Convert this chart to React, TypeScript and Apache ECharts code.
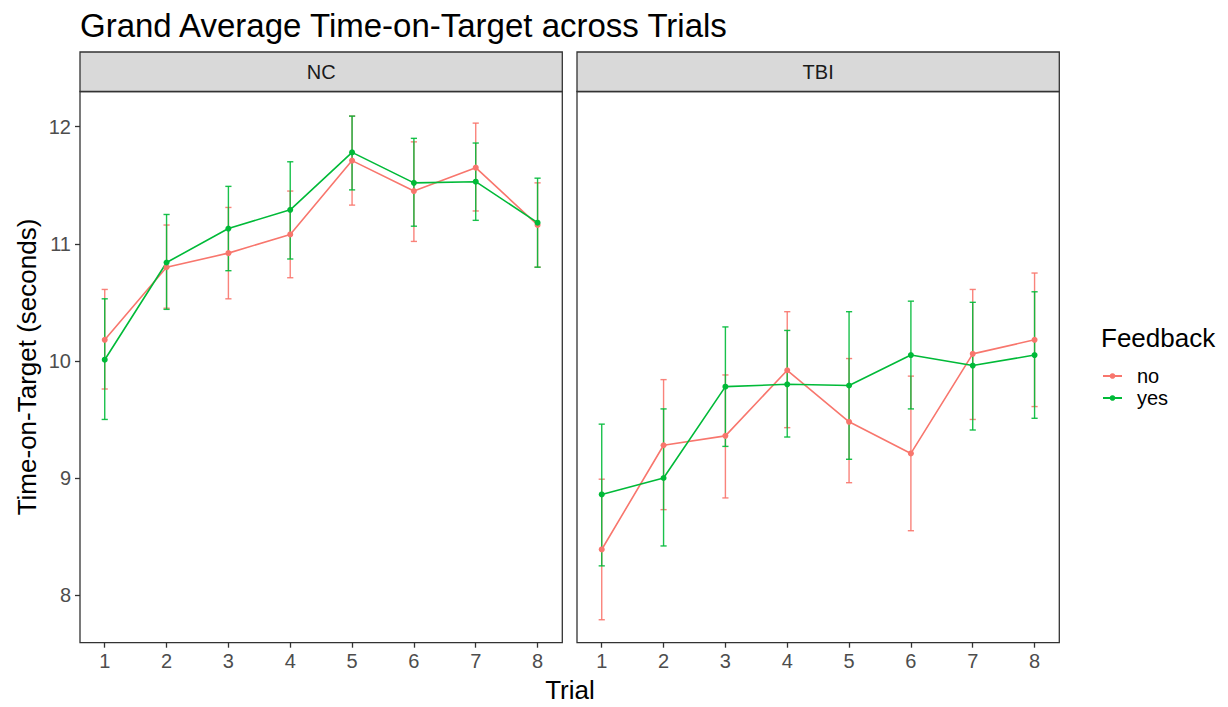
import React, { useEffect, useRef } from "react";
import * as echarts from "echarts";

// Trials and factor levels
const trials = [1, 2, 3, 4, 5, 6, 7, 8];
const groups = ["NC", "TBI"];
const feedbackLevels = ["no", "yes"];
const yTicks = [8, 9, 10, 11, 12];

// NC group: mean time-on-target with lower/upper error bounds
const ncNoMean = [10.18, 10.8, 10.92, 11.08, 11.71, 11.45, 11.65, 11.16];
const ncNoLow = [9.76, 10.45, 10.53, 10.71, 11.33, 11.02, 11.28, 10.8];
const ncNoHigh = [10.61, 11.16, 11.31, 11.45, 12.09, 11.87, 12.03, 11.52];
const ncYesMean = [10.01, 10.84, 11.13, 11.29, 11.78, 11.52, 11.53, 11.18];
const ncYesLow = [9.5, 10.44, 10.77, 10.87, 11.46, 11.15, 11.2, 10.8];
const ncYesHigh = [10.53, 11.25, 11.49, 11.7, 12.09, 11.9, 11.86, 11.56];

// TBI group
const tbiNoMean = [8.39, 9.28, 9.36, 9.92, 9.48, 9.21, 10.06, 10.18];
const tbiNoLow = [7.79, 8.73, 8.83, 9.43, 8.96, 8.55, 9.5, 9.61];
const tbiNoHigh = [8.99, 9.84, 9.88, 10.42, 10.02, 9.87, 10.61, 10.75];
const tbiYesMean = [8.86, 9.0, 9.78, 9.8, 9.79, 10.05, 9.96, 10.05];
const tbiYesLow = [8.25, 8.42, 9.27, 9.35, 9.16, 9.59, 9.41, 9.51];
const tbiYesHigh = [9.46, 9.59, 10.29, 10.26, 10.42, 10.51, 10.5, 10.59];

const FONT = "'Liberation Sans', Arial, Helvetica, sans-serif";
const COLORS: Record<string, string> = { no: "#F8766D", yes: "#00BA38" };
const BORDER = "#333333";

const panelData = [
  {
    no: { mean: ncNoMean, low: ncNoLow, high: ncNoHigh },
    yes: { mean: ncYesMean, low: ncYesLow, high: ncYesHigh },
  },
  {
    no: { mean: tbiNoMean, low: tbiNoLow, high: tbiNoHigh },
    yes: { mean: tbiYesMean, low: tbiYesLow, high: tbiYesHigh },
  },
];

const PANEL_TOP = 91.5;
const PANEL_H = 551.2;
const PANEL_W = 482.3;
const PANEL_LEFTS = [80, 577];
const STRIP_TOP = 52;

function buildOption() {
  const grids = PANEL_LEFTS.map((left) => ({
    left,
    top: PANEL_TOP,
    width: PANEL_W,
    height: PANEL_H,
    show: true,
    backgroundColor: "#FFFFFF",
    borderColor: BORDER,
    borderWidth: 1.3,
  }));

  const xAxes = groups.map((_, p) => ({
    type: "value",
    gridIndex: p,
    min: 0.6,
    max: 8.4,
    axisLine: { show: false },
    splitLine: { show: false },
    axisTick: {
      show: true,
      customValues: trials,
      length: 5,
      lineStyle: { color: BORDER, width: 1.3 },
    },
    axisLabel: {
      customValues: trials,
      color: "#4D4D4D",
      fontSize: 20,
      fontFamily: FONT,
      margin: 8,
    },
  }));

  const yAxes = groups.map((_, p) => ({
    type: "value",
    gridIndex: p,
    min: 7.594,
    max: 12.3,
    axisLine: { show: false },
    splitLine: { show: false },
    axisTick: {
      show: p === 0,
      customValues: yTicks,
      length: 5,
      lineStyle: { color: BORDER, width: 1.3 },
    },
    axisLabel: {
      show: p === 0,
      customValues: yTicks,
      color: "#4D4D4D",
      fontSize: 20,
      fontFamily: FONT,
      margin: 9,
    },
  }));

  const errorSeries: any[] = [];
  const lineSeries: any[] = [];
  groups.forEach((_, p) => {
    feedbackLevels.forEach((lvl) => {
      const d = (panelData[p] as any)[lvl];
      const color = COLORS[lvl];
      errorSeries.push({
        type: "custom",
        name: lvl + "-err",
        xAxisIndex: p,
        yAxisIndex: p,
        encode: { x: 0, y: [1, 2] },
        data: trials.map((t, i) => [t, d.low[i], d.high[i]]),
        renderItem: (params: any, api: any) => {
          const x = api.value(0);
          const lo = api.coord([x, api.value(1)]);
          const hi = api.coord([x, api.value(2)]);
          const half = api.size([0.1, 0])[0] / 2;
          const style = { stroke: color, lineWidth: 1.4, opacity: 0.9 };
          return {
            type: "group",
            children: [
              { type: "line", shape: { x1: lo[0], y1: lo[1], x2: hi[0], y2: hi[1] }, style },
              { type: "line", shape: { x1: hi[0] - half, y1: hi[1], x2: hi[0] + half, y2: hi[1] }, style },
              { type: "line", shape: { x1: lo[0] - half, y1: lo[1], x2: lo[0] + half, y2: lo[1] }, style },
            ],
          };
        },
      });
      lineSeries.push({
        type: "line",
        name: lvl,
        xAxisIndex: p,
        yAxisIndex: p,
        data: trials.map((t, i) => [t, d.mean[i]]),
        symbol: "circle",
        symbolSize: 6,
        showSymbol: true,
        color,
        itemStyle: { color },
        lineStyle: { color, width: 1.6 },
      });
    });
  });

  const graphic: any[] = [];
  groups.forEach((g, p) => {
    graphic.push({
      type: "rect",
      shape: { x: PANEL_LEFTS[p], y: STRIP_TOP, width: PANEL_W, height: PANEL_TOP - STRIP_TOP },
      style: { fill: "#D9D9D9", stroke: BORDER, lineWidth: 1.3 },
    });
    graphic.push({
      type: "text",
      x: PANEL_LEFTS[p] + PANEL_W / 2,
      y: (STRIP_TOP + PANEL_TOP) / 2,
      style: {
        text: g,
        fill: "#1A1A1A",
        fontSize: 20,
        fontFamily: FONT,
        textAlign: "center",
        textVerticalAlign: "middle",
      },
    });
  });
  graphic.push({
    type: "text",
    x: 80,
    y: 25,
    style: {
      text: "Grand Average Time-on-Target across Trials",
      fill: "#000000",
      fontSize: 33,
      fontFamily: FONT,
      textAlign: "left",
      textVerticalAlign: "middle",
    },
  });
  graphic.push({
    type: "text",
    x: 570,
    y: 690,
    style: {
      text: "Trial",
      fill: "#000000",
      fontSize: 26,
      fontFamily: FONT,
      textAlign: "center",
      textVerticalAlign: "middle",
    },
  });
  graphic.push({
    type: "text",
    x: 27,
    y: 367,
    rotation: Math.PI / 2,
    style: {
      text: "Time-on-Target (seconds)",
      fill: "#000000",
      fontSize: 26,
      fontFamily: FONT,
      textAlign: "center",
      textVerticalAlign: "middle",
    },
  });
  graphic.push({
    type: "text",
    x: 1101,
    y: 338,
    style: {
      text: "Feedback",
      fill: "#000000",
      fontSize: 26,
      fontFamily: FONT,
      textAlign: "left",
      textVerticalAlign: "middle",
    },
  });

  return {
    animation: false,
    backgroundColor: "#FFFFFF",
    grid: grids,
    xAxis: xAxes,
    yAxis: yAxes,
    legend: {
      data: feedbackLevels,
      orient: "vertical",
      left: 1102,
      top: 366,
      padding: 0,
      itemWidth: 19,
      itemHeight: 7,
      itemGap: 2,
      textStyle: {
        color: "#000000",
        fontSize: 20,
        lineHeight: 20,
        fontFamily: FONT,
        padding: [0, 0, 0, 10],
      },
    },
    graphic,
    series: [...errorSeries, ...lineSeries],
  };
}

export default function App() {
  const ref = useRef<HTMLDivElement>(null);
  useEffect(() => {
    if (!ref.current) return;
    const chart = echarts.init(ref.current, undefined, { renderer: "svg" });
    chart.setOption(buildOption() as any);
    return () => chart.dispose();
  }, []);
  return (
    <div
      ref={ref}
      style={{ position: "fixed", left: 0, top: 0, width: 1228, height: 707, background: "#fff" }}
    />
  );
}
